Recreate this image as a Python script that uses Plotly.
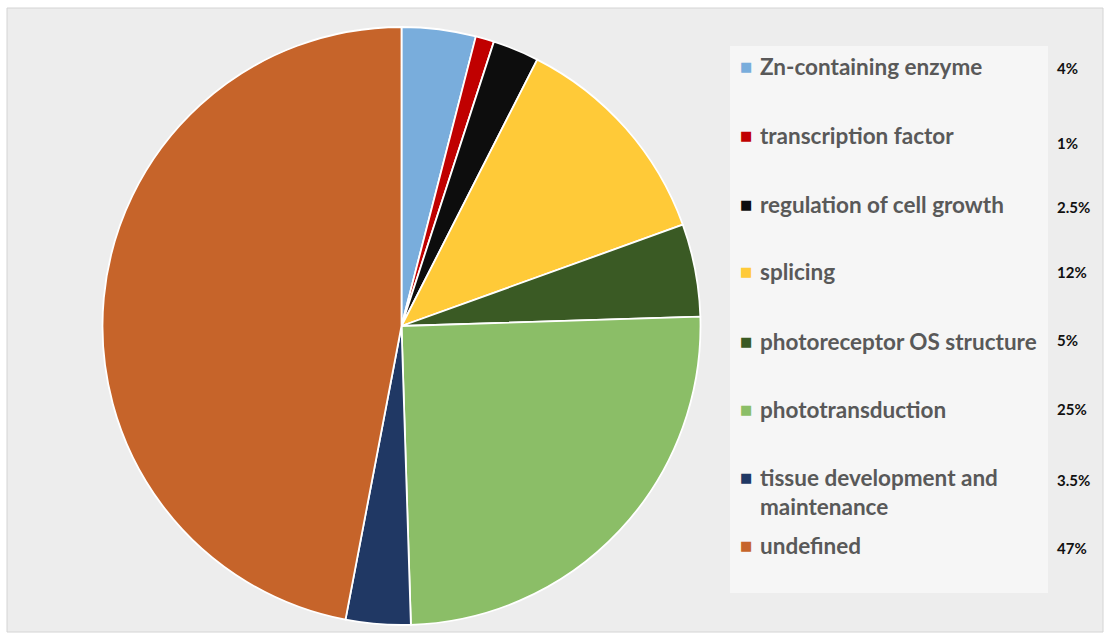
import plotly.graph_objects as go

# Functional categories and their shares (%)
categories = [
    "Zn-containing enzyme",
    "transcription factor",
    "regulation of cell growth",
    "splicing",
    "photoreceptor OS structure",
    "phototransduction",
    "tissue development and<br>maintenance",
    "undefined",
]
shares = [4, 1, 2.5, 12, 5, 25, 3.5, 47]
share_labels = ["4%", "1%", "2.5%", "12%", "5%", "25%", "3.5%", "47%"]
colors = ["#79ADDC", "#C00000", "#0D0D0D", "#FFCA38",
          "#3A5A24", "#8BBE67", "#203864", "#C6642A"]

W, H = 1109, 639


def px(x):
    return x / W


def py(y):
    return 1 - y / H


fig = go.Figure()
fig.add_trace(go.Pie(
    labels=[c.replace("<br>", " ") for c in categories],
    values=shares,
    sort=False,
    direction="clockwise",
    rotation=0,
    marker=dict(colors=colors, line=dict(color="white", width=1.8)),
    textinfo="none",
    hovertemplate="%{label}: %{value}%<extra></extra>",
    domain=dict(x=[px(98), px(705)], y=[py(625), py(27)]),
    showlegend=False,
))

# Frame, background and legend panel
shapes = [
    dict(type="rect", xref="paper", yref="paper", layer="below",
         x0=px(7), x1=px(1103), y0=py(632), y1=py(8),
         fillcolor="#EDEDED", line=dict(color="#D4D4D4", width=1)),
    dict(type="rect", xref="paper", yref="paper", layer="below",
         x0=px(730), x1=px(1048), y0=py(593), y1=py(46),
         fillcolor="#F6F6F6", line=dict(width=0)),
]

# Custom legend: colour square, category name, percentage
label_y = [67, 136, 205, 272, 341, 409, 492, 545]
marker_y = [67, 136, 205, 272, 341, 409, 477, 545]
pct_y = [68, 143, 207, 272, 340, 409, 480, 548]
annotations = []
for i, cat in enumerate(categories):
    annotations.append(dict(
        x=px(746), y=py(marker_y[i]), xref="paper", yref="paper",
        text="■", showarrow=False, xanchor="center", yanchor="middle",
        font=dict(family="DejaVu Sans", size=13, color=colors[i]),
    ))
    annotations.append(dict(
        x=px(758), y=py(label_y[i]), xref="paper", yref="paper",
        text=f"<b>{cat}</b>", showarrow=False, xanchor="left", yanchor="middle",
        align="left",
        font=dict(family="Lato", size=22.5, color="#595959"),
    ))
    annotations.append(dict(
        x=px(1055), y=py(pct_y[i]), xref="paper", yref="paper",
        text=f"<b>{share_labels[i]}</b>", showarrow=False,
        xanchor="left", yanchor="middle",
        font=dict(family="Lato", size=15, color="#111111"),
    ))

fig.update_layout(
    width=W, height=H,
    margin=dict(l=0, r=0, t=0, b=0),
    paper_bgcolor="white",
    plot_bgcolor="white",
    shapes=shapes,
    annotations=annotations,
)

fig.write_html("out.html")
